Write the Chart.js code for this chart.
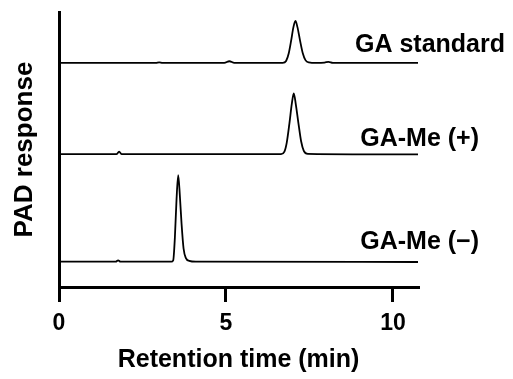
<!DOCTYPE html>
<html>
<head>
<meta charset="utf-8">
<script src="https://cdn.jsdelivr.net/npm/chart.js@4/dist/chart.umd.min.js"></script>
<style>
  html, body { margin: 0; padding: 0; background: #fff; }
  #wrap { width: 513px; height: 379px; }
</style>
</head>
<body>
<div id="wrap"><canvas id="c" width="513" height="379"></canvas></div>
<script>
// ---- data ----
const seriesNames = ["GA standard", "GA-Me (+)", "GA-Me (\u2212)"];
const xTicks = [0, 5, 10];

const gaStdTime = [0, 2.9, 3.0, 3.1, 4.95, 5.1, 5.25, 6.7, 6.8, 6.88, 6.95, 7.02, 7.08, 7.14, 7.22, 7.3, 7.38, 7.48, 7.7, 7.95, 8.07, 8.2, 10.75];
const gaStdResp = [81.5, 81.5, 81.7, 81.5, 81.5, 82.1, 81.5, 81.5, 82.2, 85, 89.5, 94.5, 96.8, 94.5, 89.5, 85, 82.5, 81.7, 81.5, 81.6, 81.9, 81.5, 81.5];

const gaMePlusTime = [0, 1.72, 1.8, 1.88, 6.65, 6.75, 6.82, 6.9, 6.97, 7.03, 7.09, 7.17, 7.25, 7.33, 7.45, 10.75];
const gaMePlusResp = [48.3, 48.3, 49.2, 48.3, 48.3, 49.2, 52.5, 59.5, 66.5, 70.4, 66.5, 59.5, 53, 49.5, 48.4, 48.2];

const gaMeMinusTime = [0, 1.7, 1.77, 1.84, 3.36, 3.42, 3.47, 3.52, 3.57, 3.62, 3.67, 3.73, 3.8, 3.9, 4.1, 10.75];
const gaMeMinusResp = [9.2, 9.2, 9.7, 9.2, 9.2, 9.7, 18, 32, 40.7, 33, 23, 14, 10.5, 9.5, 9.2, 9.1];

const xMin = 0, xMax = 10.75;
const yMin = 0, yMax = 100;

// ---- chart ----
const FONT = "'Liberation Sans', Arial, Helvetica, sans-serif";
Chart.defaults.color = '#000';
Chart.defaults.font.family = FONT;

function pts(t, r) { return t.map((v, i) => ({ x: v, y: r[i] })); }

const traces = [pts(gaStdTime, gaStdResp), pts(gaMePlusTime, gaMePlusResp), pts(gaMeMinusTime, gaMeMinusResp)];

// label placement (style, not data): right edge offset from plot right, gap above trace baseline
const labelStyle = [
  { dx: 87, gap: 11 },
  { dx: 61, gap: 8 },
  { dx: 61, gap: 13 }
];

const traceLabels = {
  id: 'traceLabels',
  afterDatasetsDraw(chart) {
    const { ctx, chartArea, scales } = chart;
    ctx.save();
    ctx.fillStyle = '#000';
    ctx.font = "bold 25px " + FONT;
    ctx.textAlign = 'right';
    ctx.textBaseline = 'alphabetic';
    chart.data.datasets.forEach((ds, i) => {
      const base = ds.data[0].y;
      const y = scales.y.getPixelForValue(base) - labelStyle[i].gap;
      ctx.fillText(seriesNames[i], chartArea.right + labelStyle[i].dx, y);
    });
    ctx.restore();
  }
};

new Chart(document.getElementById('c'), {
  type: 'line',
  data: {
    datasets: traces.map((d, i) => ({
      label: seriesNames[i],
      data: d,
      borderColor: '#000',
      borderWidth: 1.8,
      pointRadius: 0,
      fill: false,
      cubicInterpolationMode: 'monotone',
      clip: false
    }))
  },
  options: {
    responsive: false,
    animation: false,
    devicePixelRatio: 1,
    layout: { padding: { top: 12, right: 95, bottom: 0, left: 0 } },
    plugins: { legend: { display: false }, tooltip: { enabled: false } },
    scales: {
      x: {
        type: 'linear',
        min: xMin,
        max: xMax,
        afterBuildTicks(scale) { scale.ticks = xTicks.map(v => ({ value: v })); },
        afterFit(scale) { scale.height = 92; },
        ticks: { font: { size: 23, weight: 'bold' }, padding: 8, color: '#000', maxRotation: 0 },
        grid: { display: true, drawOnChartArea: false, drawTicks: true, tickLength: 15, tickWidth: 3, tickColor: '#000', lineWidth: 3, color: '#000' },
        border: { display: true, width: 3, color: '#000' },
        title: { display: true, text: 'Retention time (min)', font: { size: 25, weight: 'bold' }, color: '#000', padding: { top: 0, bottom: 4 } }
      },
      y: {
        type: 'linear',
        min: yMin,
        max: yMax,
        afterFit(scale) { scale.width = 59; },
        ticks: { display: false },
        grid: { display: false },
        border: { display: true, width: 3, color: '#000' },
        title: { display: true, text: 'PAD response', font: { size: 26, weight: 'bold' }, color: '#000', padding: { top: 9, bottom: 0 } }
      }
    }
  },
  plugins: [traceLabels]
});
</script>
</body>
</html>
